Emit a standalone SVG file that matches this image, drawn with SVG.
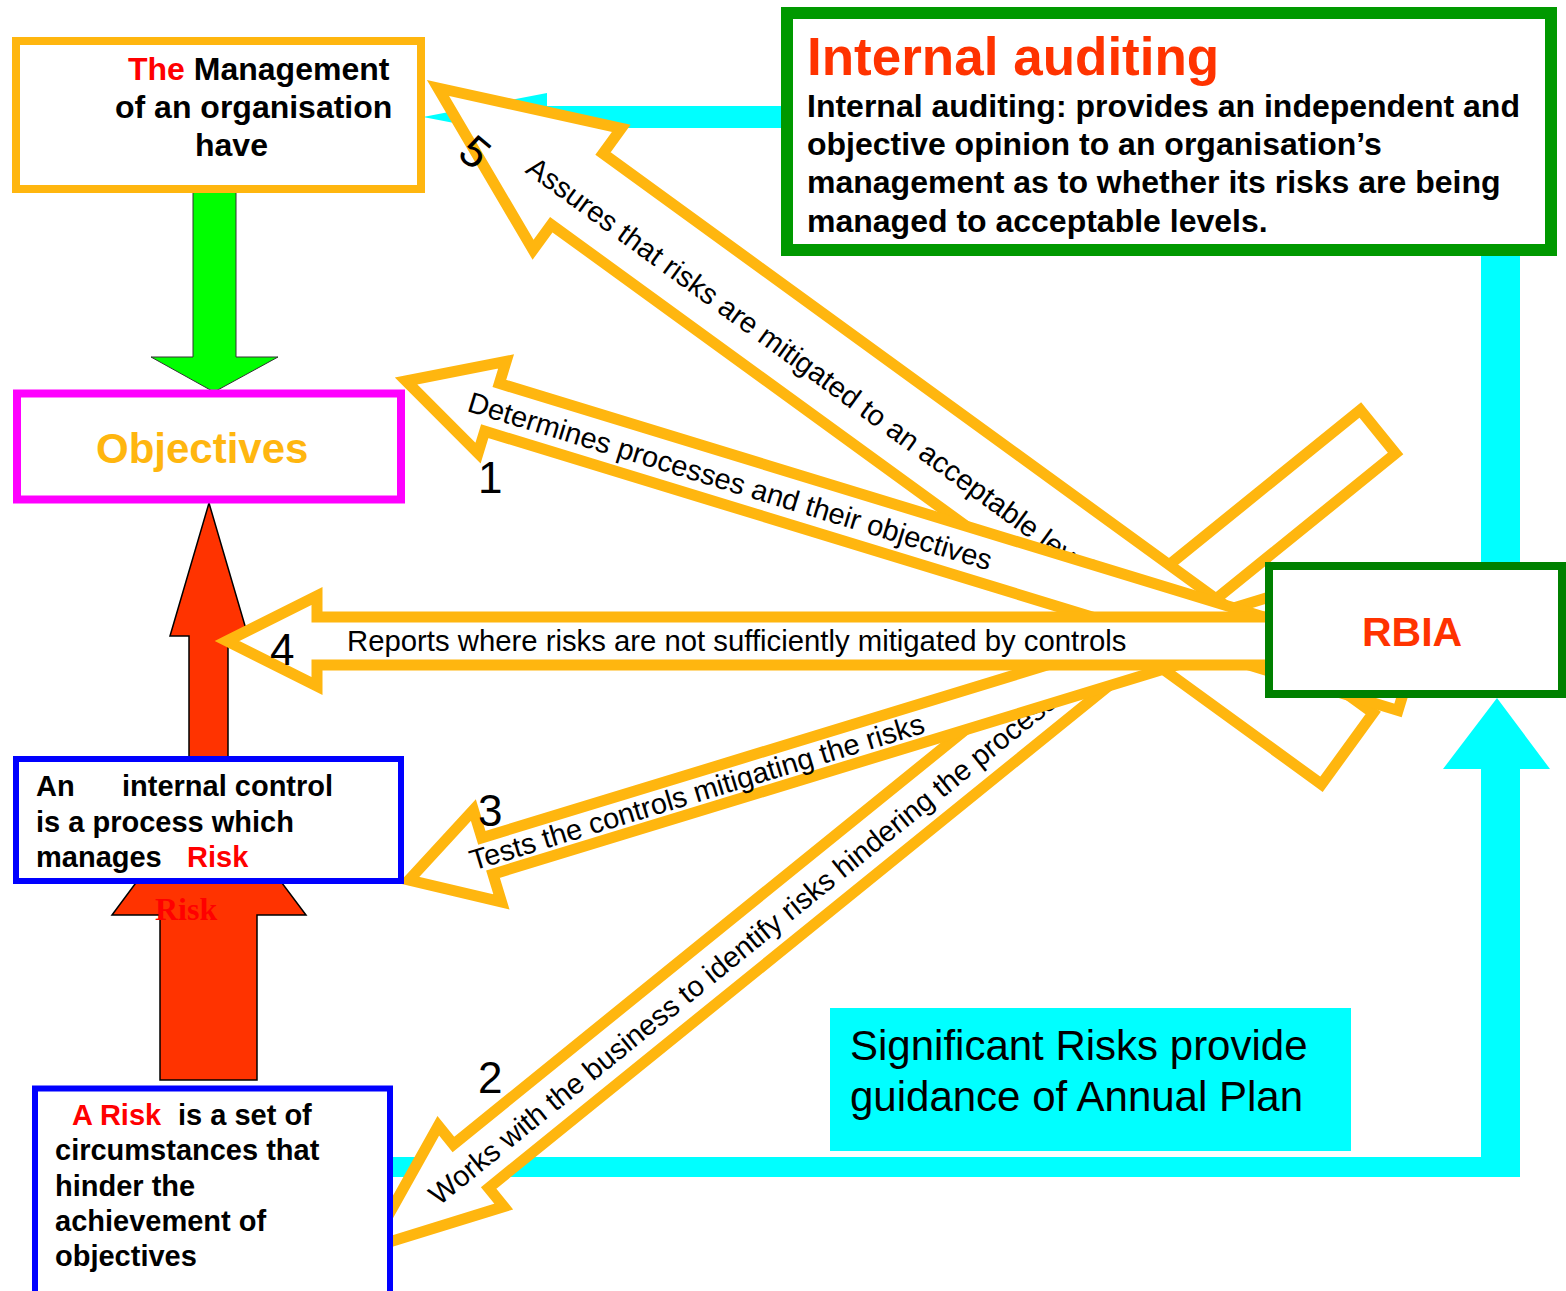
<svg xmlns="http://www.w3.org/2000/svg" width="1566" height="1291" viewBox="0 0 1566 1291">
<style>
.oa{fill:#fff;stroke:#FFB60F;stroke-width:11;stroke-linejoin:miter;stroke-miterlimit:10}
.at{font-family:"Liberation Sans",Arial,sans-serif;font-size:29px;fill:#000}
.num{font-family:"Liberation Sans",Arial,sans-serif;font-size:44px;fill:#000}
.b{font-family:"Liberation Sans",Arial,sans-serif;font-weight:bold;fill:#000}
.box{fill:#fff}
.cy{fill:#00FFFF}
.red{fill:#FF0000}
</style>
<rect width="1566" height="1291" fill="#fff"/>
<g id="connectors">
  <polygon class="cy" points="781,106 547,106 547,93 423,117 547,141 547,128 781,128"/>
  <rect class="cy" x="1481" y="250" width="39" height="316"/>
  <polygon class="cy" points="1497,698 1550,769 1520,769 1520,1177 385,1177 385,1157 1481,1157 1481,769 1443,769"/>
  <polygon points="193,189 236,189 236,357 278,357 214,392 151,357 193,357" fill="#00FF00" stroke="#333" stroke-width="1"/>
  <polygon points="209,503 248,636 228,636 228,758 189,758 189,636 170,636" fill="#FF3300" stroke="#000" stroke-width="1.5"/>
  <polygon points="208.5,785 306,915 257,915 257,1080 160,1080 160,915 112,915" fill="#FF3300" stroke="#000" stroke-width="1.5"/>
  <text x="155" y="920" font-family="'Liberation Serif','Times New Roman',serif" font-weight="bold" font-size="32" fill="#FF0000">Risk</text>
  <g id="arrow2" transform="translate(370,1248) rotate(-39)">
    <path class="oa" d="M0,0 L130,-52 L130,-28 L1297,-28 L1297,28 L130,28 L130,52 Z"/>
    <text class="at" x="80" y="11">Works with the business to identify risks hindering the process</text>
  </g>
  <g id="arrow5" transform="translate(438,88) rotate(36)">
    <path class="oa" d="M0,0 L172,-75 L172,-44 L1124,-44 L1124,44 L172,44 L172,75 Z"/>
    <text class="at" x="119" y="17">Assures that risks are mitigated to an acceptable level</text>
  </g>
  <g id="arrow3" transform="translate(409,880) rotate(-17)">
    <path class="oa" d="M0,0 L82,-48 L82,-19 L1000,-19 L1000,19 L82,19 L82,48 Z"/>
    <text class="at" x="64" y="10">Tests the controls mitigating the risks</text>
  </g>
  <g id="arrow1" transform="translate(406,381) rotate(17)">
    <path class="oa" d="M0,0 L90,-48 L90,-25 L1045,-25 L1045,25 L90,25 L90,48 Z"/>
    <text class="at" x="66" y="11">Determines processes and their objectives</text>
  </g>
  <g id="arrow4" transform="translate(227,641)">
    <path class="oa" d="M0,0 L90,-45 L90,-24 L1180,-24 L1180,24 L90,24 L90,45 Z"/>
    <text class="at" x="120" y="10" style="font-size:29.3px">Reports where risks are not sufficiently mitigated by controls</text>
  </g>
  <text class="num" x="478" y="493">1</text>
  <text class="num" x="478" y="1093">2</text>
  <text class="num" x="478" y="826">3</text>
  <text class="num" x="270" y="665">4</text>
  <text class="num" transform="translate(475,152) rotate(40)" x="0" y="15" text-anchor="middle">5</text>
</g>
<g id="management">
  <rect class="box" x="16" y="41" width="405" height="148" stroke="#FFB60F" stroke-width="8"/>
  <text class="b" font-size="32" x="128" y="80"><tspan class="red">The</tspan> Management</text>
  <text class="b" font-size="32" x="115" y="118">of an organisation</text>
  <text class="b" font-size="32" x="195" y="156">have</text>
</g>
<g id="internal-auditing">
  <rect class="box" x="787" y="13" width="764" height="237" stroke="#009900" stroke-width="12"/>
  <text class="b" font-size="53" x="807" y="75" style="fill:#FF3300">Internal auditing</text>
  <text class="b" font-size="32" x="807" y="117">Internal auditing: provides an independent and</text>
  <text class="b" font-size="32" x="807" y="155">objective opinion to an organisation’s</text>
  <text class="b" font-size="32" x="807" y="193">management as to whether its risks are being</text>
  <text class="b" font-size="32" x="807" y="232">managed to acceptable levels.</text>
</g>
<g id="objectives">
  <rect class="box" x="17" y="393.5" width="384" height="106" stroke="#FF00FF" stroke-width="8"/>
  <text class="b" font-size="42" x="96" y="463" style="fill:#FFB60F">Objectives</text>
</g>
<g id="rbia">
  <rect class="box" x="1269" y="566" width="293" height="128" stroke="#008000" stroke-width="8"/>
  <text class="b" font-size="41" x="1362" y="646" style="fill:#FF3300">RBIA</text>
</g>
<g id="internal-control">
  <rect class="box" x="16" y="759" width="385" height="122" stroke="#0000FF" stroke-width="6"/>
  <text class="b" font-size="29" x="36" y="796">An</text>
  <text class="b" font-size="29" x="122" y="796">internal control</text>
  <text class="b" font-size="29" x="36" y="832">is a process which</text>
  <text class="b" font-size="29" x="36" y="867">manages</text>
  <text class="b" font-size="29" x="187" y="867" style="fill:#FF0000">Risk</text>
</g>
<g id="risk">
  <rect class="box" x="35" y="1088.5" width="355" height="215" stroke="#0000FF" stroke-width="6"/>
  <text class="b" font-size="29" x="72" y="1125" style="fill:#FF0000">A Risk</text>
  <text class="b" font-size="29" x="178" y="1125">is a set of</text>
  <text class="b" font-size="29" x="55" y="1160">circumstances that</text>
  <text class="b" font-size="29" x="55" y="1196">hinder the</text>
  <text class="b" font-size="29" x="55" y="1231">achievement of</text>
  <text class="b" font-size="29" x="55" y="1266">objectives</text>
</g>
<g id="significant-risks">
  <rect class="cy" x="830" y="1008" width="521" height="143"/>
  <text font-family="'Liberation Sans',Arial,sans-serif" font-size="42" x="850" y="1060" fill="#000">Significant Risks provide</text>
  <text font-family="'Liberation Sans',Arial,sans-serif" font-size="42" x="850" y="1111" fill="#000">guidance of Annual Plan</text>
</g>
</svg>
